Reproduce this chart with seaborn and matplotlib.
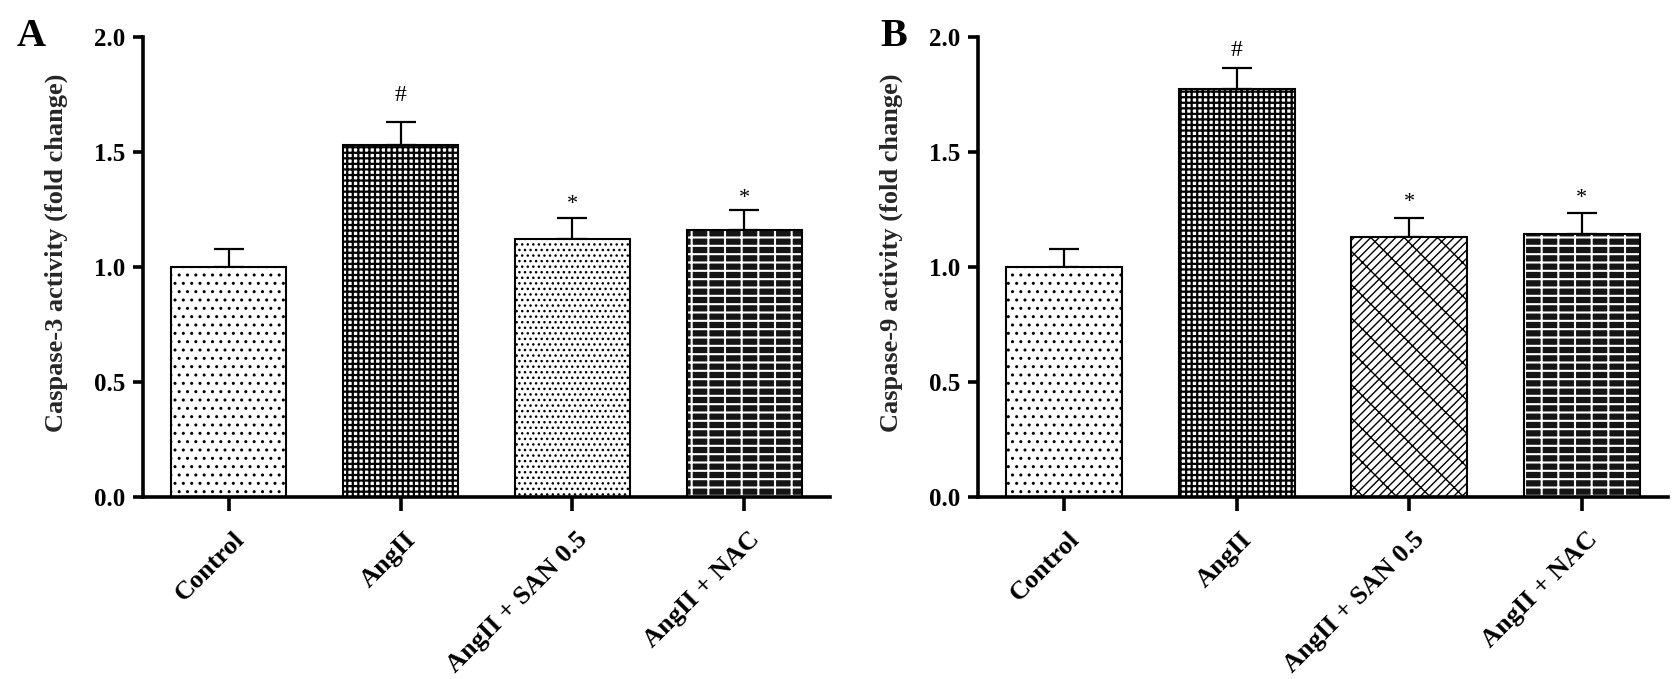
import matplotlib
matplotlib.use("Agg")
import matplotlib.pyplot as plt
import matplotlib.transforms as mtransforms
import seaborn as sns
import pandas as pd
from matplotlib.colors import to_rgba

# ---------------- data ----------------
groups = ["Control", "AngII", "AngII + SAN 0.5", "AngII + NAC"]
casp3_mean = [1.00, 1.53, 1.12, 1.16]
casp3_err = [0.078, 0.10, 0.095, 0.09]
casp9_mean = [1.00, 1.775, 1.13, 1.143]
casp9_err = [0.078, 0.09, 0.083, 0.092]
casp3_marks = ["", "#", "*", "*"]
casp9_marks = ["", "#", "*", "*"]
ylabels = ["Caspase-3 activity (fold change)", "Caspase-9 activity (fold change)"]
panel_letters = ["A", "B"]
yticks = [0.0, 0.5, 1.0, 1.5, 2.0]

# ---------------- style ----------------
sns.set_theme(style="ticks")
plt.rcParams["font.family"] = ["Liberation Serif", "DejaVu Serif"]
plt.rcParams["font.weight"] = "bold"
plt.rcParams["hatch.linewidth"] = 1.2

hatches = [["..", "+++", "...", "--|"], ["..", "+++", "////\\", "--|"]]
hatch_lw = [1.0, 1.6, 1.0, 1.5]
faces = ["white", "white", "white", "#151515"]
hatch_cols = ["black", "black", "black", "white"]
mark_offsets = [[0, 15, 6, 5], [0, 9, 8, 7]]

fig = plt.figure(figsize=(16.8, 6.79), dpi=100)
axes_pos = [[143 / 1680, 1 - 497 / 679, 687 / 1680, 460 / 679],
            [978 / 1680, 1 - 497 / 679, 690 / 1680, 460 / 679]]
letter_pos = [(17 / 1680, 1 - 46 / 679), (880 / 1680, 1 - 46 / 679)]

panels = [(casp3_mean, casp3_err, casp3_marks), (casp9_mean, casp9_err, casp9_marks)]
shift = mtransforms.ScaledTranslation(12 / 100, 0, fig.dpi_scale_trans)

for k, (means, errs, marks) in enumerate(panels):
    ax = fig.add_axes(axes_pos[k])
    df = pd.DataFrame({"group": groups, "value": means})
    sns.barplot(data=df, x="group", y="value", order=groups, color="white",
                saturation=1, edgecolor="black", linewidth=1.5, width=0.67,
                errorbar=None, ax=ax)
    for i, p in enumerate(ax.patches):
        p.set_facecolor(faces[i])
        p.set_edgecolor("black")
        p.set_hatch(hatches[k][i])
        p._hatch_color = to_rgba(hatch_cols[i])
        if hasattr(p, "set_hatch_linewidth"):
            p.set_hatch_linewidth(hatch_lw[i])
        p.set_zorder(2)
    ax.errorbar(range(len(groups)), means, yerr=[[0] * len(errs), errs],
                fmt="none", ecolor="black", elinewidth=1.6, capsize=10.5,
                capthick=1.6, zorder=1)
    for i, m in enumerate(marks):
        if m:
            ax.annotate(m, (i, means[i] + errs[i]), xytext=(0, mark_offsets[k][i]),
                        textcoords="offset points", ha="center", va="baseline",
                        fontsize=17 if m == "#" else 16, fontweight="normal",
                        color="black")
    ax.set_xlim(-0.5, 3.5)
    ax.set_ylim(0, 2.0)
    ax.set_yticks(yticks)
    ax.set_yticklabels([f"{t:.1f}" for t in yticks], fontsize=18, fontweight="bold")
    ax.set_xticks(range(len(groups)))
    ax.set_xlabel("")
    ax.set_ylabel(ylabels[k], fontsize=19, fontweight="bold")
    ax.yaxis.set_label_coords(-75 / 687, 0.53)
    sns.despine(ax=ax)
    for s in ["left", "bottom"]:
        ax.spines[s].set_linewidth(2.6)
        ax.spines[s].set_color("black")
    ax.tick_params(axis="y", length=7, width=2.6, pad=6, colors="black")
    ax.tick_params(axis="x", length=10, width=2.6, pad=18, colors="black")
    ax.set_xticklabels(groups, rotation=45, ha="right", va="center",
                       rotation_mode="anchor", fontsize=19, fontweight="bold")
    for lab in ax.get_xticklabels():
        lab.set_transform(lab.get_transform() + shift)
    ax.set_facecolor("white")
    fig.text(letter_pos[k][0], letter_pos[k][1], panel_letters[k], fontsize=29,
             fontweight="bold", va="baseline", ha="left", color="black")

fig.savefig("out.png", dpi=100, facecolor="white")
